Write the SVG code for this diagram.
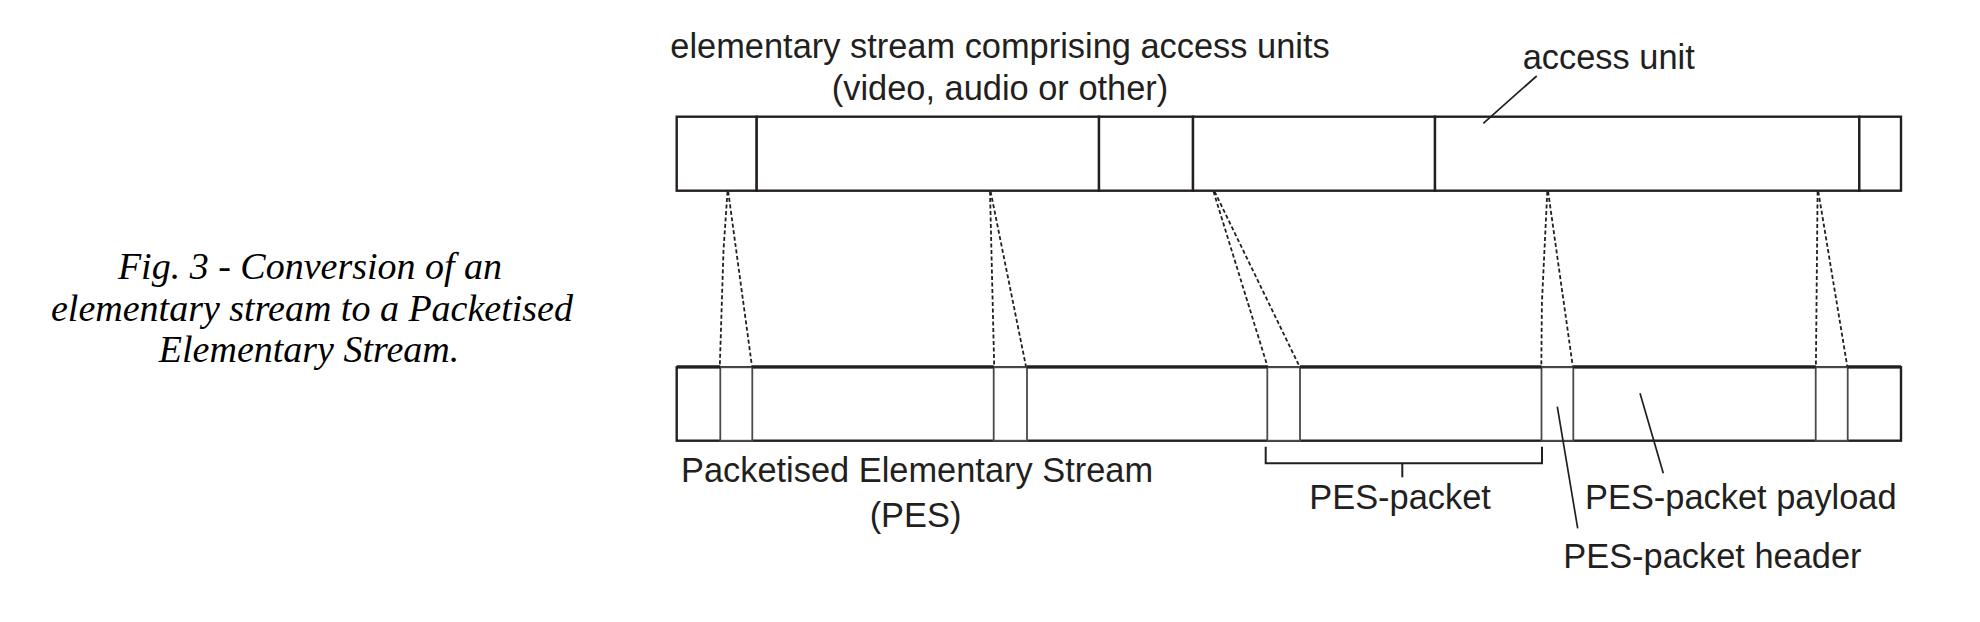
<svg xmlns="http://www.w3.org/2000/svg" width="1980" height="622" viewBox="0 0 1980 622">
<style>
  .bg{fill:#ffffff}
  .seg{fill:#ffffff;stroke:#231f20;stroke-width:2.4}
  .hdr{fill:#ffffff;stroke:#4a4a4a;stroke-width:1.8}
  .edge{fill:none;stroke:#231f20;stroke-width:3}
  .lbl{font-family:"Liberation Sans",Arial,sans-serif;font-size:34.4px;fill:#231f20}
  .cap{font-family:"Liberation Serif","Times New Roman",serif;font-style:italic;font-size:38px;fill:#000000}
  .dash{fill:none;stroke:#231f20;stroke-width:1.8;stroke-dasharray:4 2.5}
  .lead{fill:none;stroke:#231f20;stroke-width:1.7}
  .brk{fill:none;stroke:#231f20;stroke-width:2}
</style>
<rect class="bg" x="0" y="0" width="1980" height="622"/>

<g id="caption">
  <text class="cap" x="310" y="279.3" text-anchor="middle">Fig. 3 - Conversion of an</text>
  <text class="cap" x="312" y="320.7" text-anchor="middle">elementary stream to a Packetised</text>
  <text class="cap" x="309" y="362" text-anchor="middle">Elementary Stream.</text>
</g>

<g id="elementary-stream">
  <rect class="seg" x="676.7" y="116.7" width="80" height="74"/>
  <rect class="seg" x="756.7" y="116.7" width="342.3" height="74"/>
  <rect class="seg" x="1099" y="116.7" width="94" height="74"/>
  <rect class="seg" x="1193" y="116.7" width="242" height="74"/>
  <rect class="seg" x="1435" y="116.7" width="424.3" height="74"/>
  <rect class="seg" x="1859.3" y="116.7" width="41.7" height="74"/>
</g>

<g id="es-label">
  <text class="lbl" x="1000" y="57.5" text-anchor="middle">elementary stream comprising access units</text>
  <text class="lbl" x="1000" y="99.5" text-anchor="middle">(video, audio or other)</text>
</g>

<g id="access-unit-label">
  <text class="lbl" x="1522.7" y="69">access unit</text>
</g>

<g id="pes-stream">
  <rect class="seg" x="676.7" y="367.3" width="1224.3" height="73.4"/>
  <rect class="hdr" x="720.3" y="367.3" width="32" height="73.4"/>
  <rect class="hdr" x="993.7" y="367.3" width="33.3" height="73.4"/>
  <rect class="hdr" x="1267.3" y="367.3" width="32.7" height="73.4"/>
  <rect class="hdr" x="1541.5" y="367.3" width="31.8" height="73.4"/>
  <rect class="hdr" x="1815.7" y="367.3" width="32" height="73.4"/>
  <path class="edge" d="M676.7 366.8 H720.3 M752.3 366.8 H993.7 M1027 366.8 H1267.3 M1300 366.8 H1541.5 M1573.3 366.8 H1815.7 M1847.7 366.8 H1901"/>
</g>

<g id="pes-label">
  <text class="lbl" x="917" y="481.7" text-anchor="middle">Packetised Elementary Stream</text>
  <text class="lbl" x="915.5" y="526.7" text-anchor="middle">(PES)</text>
</g>

<g id="pes-packet-label">
  <text class="lbl" x="1309.3" y="509.3">PES-packet</text>
</g>

<g id="payload-label">
  <text class="lbl" x="1585" y="509.3">PES-packet payload</text>
</g>

<g id="header-label">
  <text class="lbl" x="1563.3" y="568.3">PES-packet header</text>
</g>

<g id="connectors">
  <path class="dash" d="M727.5 191.5 L723.5 250 L719.8 366.5"/>
  <path class="dash" d="M728.2 191.5 L752 366.5"/>
  <path class="dash" d="M990 191.5 L994.2 366.5"/>
  <path class="dash" d="M990.6 191.5 L1026 366.5"/>
  <path class="dash" d="M1213.5 191.5 L1267.5 366.5"/>
  <path class="dash" d="M1214.6 191.5 L1299.5 366.5"/>
  <path class="dash" d="M1547.3 191.5 L1541.9 303 L1541.3 366.5"/>
  <path class="dash" d="M1548.1 191.5 L1572.8 366.5"/>
  <path class="dash" d="M1817.6 191.5 L1815.9 366.5"/>
  <path class="dash" d="M1818.3 191.5 L1847.3 366.5"/>
  <line class="lead" x1="1536.7" y1="76" x2="1483.3" y2="123.3"/>
  <line class="lead" x1="1557.3" y1="406.7" x2="1577.7" y2="528.3"/>
  <line class="lead" x1="1640" y1="393.3" x2="1663.3" y2="473.3"/>
  <path class="brk" d="M1265.7 446.7 V463.3 H1542 V446.7"/>
  <line class="brk" x1="1402.3" y1="463.3" x2="1402.3" y2="477.3"/>
</g>
</svg>
